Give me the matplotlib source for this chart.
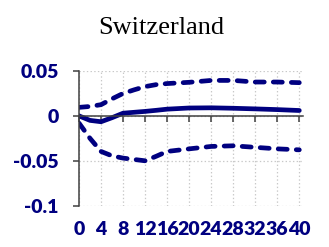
import matplotlib
matplotlib.use('Agg')
import matplotlib.pyplot as plt

# --- data ---
horizon = [0, 2, 4, 6, 8, 10, 12, 14, 16, 20, 24, 28, 32, 36, 40]
response = [0.0, -0.005, -0.0065, -0.002, 0.003, 0.004, 0.005, 0.0062, 0.0075, 0.0088, 0.009, 0.0085, 0.0078, 0.007, 0.006]
upper = [0.0095, 0.0105, 0.0125, 0.019, 0.025, 0.029, 0.0326, 0.0348, 0.036, 0.0374, 0.0395, 0.0395, 0.0377, 0.0377, 0.037]
lower = [-0.008, -0.025, -0.0396, -0.0445, -0.047, -0.0485, -0.050, -0.045, -0.0396, -0.0367, -0.034, -0.0333, -0.035, -0.0367, -0.0378]
xticks = list(range(0, 41, 4))
yticks = [0.05, 0, -0.05, -0.1]
ytick_labels = ['0.05', '0', '-0.05', '-0.1']

navy = '#000080'
axis_grey = '#404040'
plt.rcParams['lines.scale_dashes'] = False

fig = plt.figure(figsize=(3.29, 2.47), dpi=100)
ax = fig.add_axes([0.2401, 0.1672, 0.6797, 0.5454])

ax.plot(horizon, response, color=navy, lw=3.4, solid_capstyle='round')
for band in (upper, lower):
    ax.plot(horizon, band, color=navy, lw=3.4, dashes=(6.5, 6.5),
            dash_capstyle='round')

ax.set_xlim(0, 40.6)
ax.set_ylim(-0.1, 0.05)
ax.set_xticks(xticks)
ax.set_yticks(yticks)
ax.set_yticklabels(ytick_labels)
ax.grid(True, color='#c8c8c8', linestyle=':', linewidth=0.9)

for s in ('top', 'right'):
    ax.spines[s].set_visible(False)
ax.spines['bottom'].set_position(('data', 0))
ax.spines['bottom'].set_color(axis_grey)
ax.spines['left'].set_color(axis_grey)
ax.spines['bottom'].set_linewidth(1.1)
ax.spines['left'].set_linewidth(1.1)

tick_font = dict(family='Lato', weight='heavy', size=14)
ax.tick_params(axis='x', direction='out', length=4, width=1.1, color=axis_grey,
               pad=72, labelcolor=navy)
ax.tick_params(axis='y', direction='out', length=4.5, width=1.1, color=axis_grey,
               pad=10, labelcolor=navy)
for lab in ax.get_xticklabels() + ax.get_yticklabels():
    lab.set_fontproperties(tick_font)

fig.text(0.49, 0.885, 'Switzerland', family='Liberation Serif', size=19,
         ha='center', va='center')

fig.savefig('out.png', dpi=100)
